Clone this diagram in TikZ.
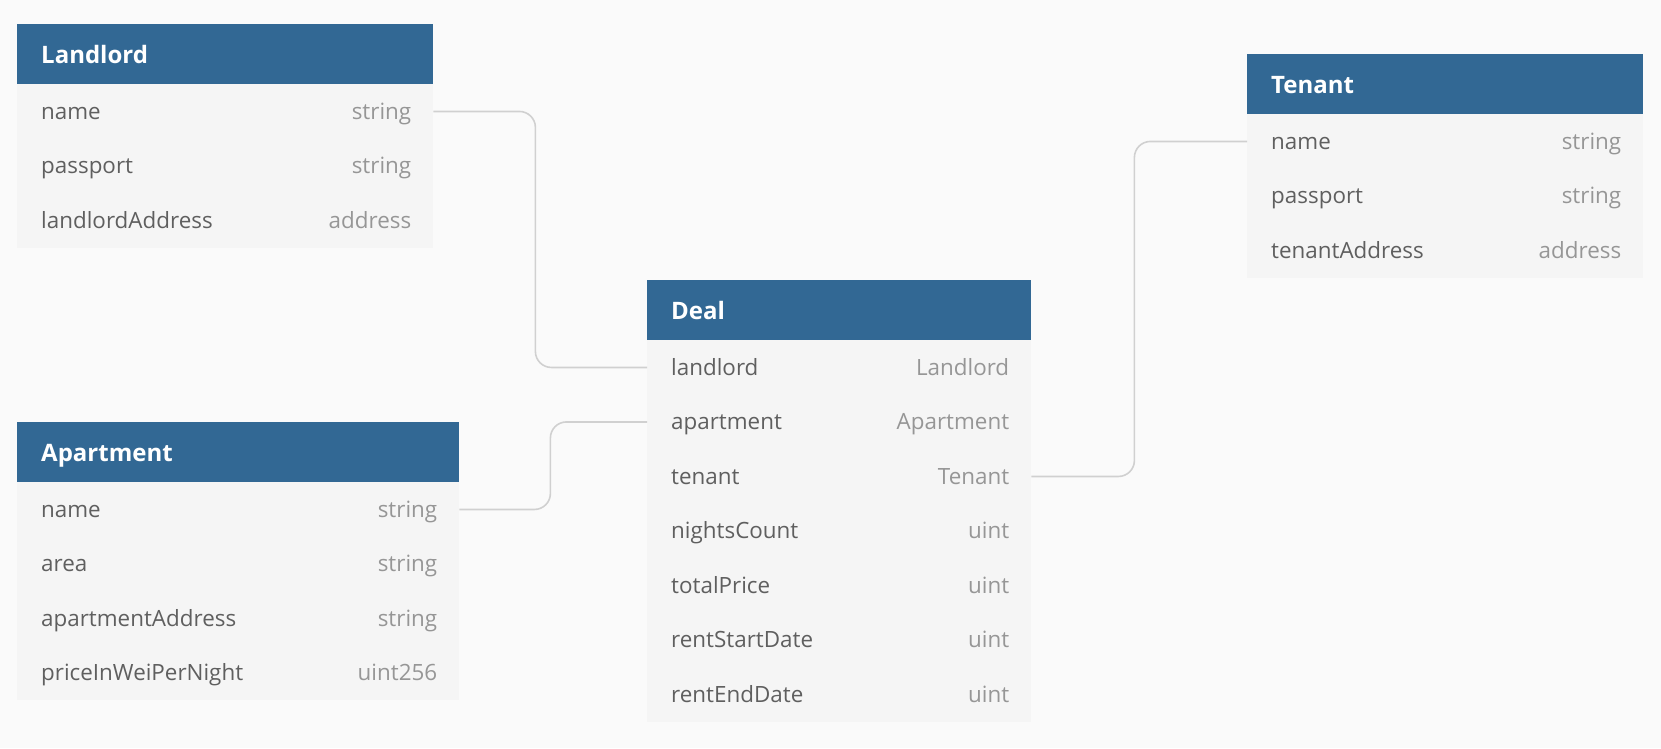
\documentclass[tikz,border=0pt]{standalone}
\usepackage{fontspec}
\setmainfont{Open Sans}
\usetikzlibrary{calc}
\definecolor{hdrblue}{RGB}{50,104,148}
\definecolor{bgcol}{RGB}{250,250,250}
\definecolor{rowcol}{RGB}{245,245,245}
\definecolor{namecol}{RGB}{95,95,95}
\definecolor{typecol}{RGB}{150,150,150}
\definecolor{conncol}{RGB}{208,208,208}
\tikzset{
  hdr/.style={fill=hdrblue, draw=none, minimum height=60pt, inner sep=0pt, anchor=north west},
  ttl/.style={text=white, font=\fontsize{24}{28}\selectfont\bfseries, inner sep=0pt, anchor=base west},
  rowbox/.style={fill=rowcol, draw=none, minimum height=54.5pt, inner sep=0pt, anchor=north west},
  fname/.style={text=namecol, font=\fontsize{22.4}{26}\selectfont, inner sep=0pt, anchor=base west},
  ftype/.style={text=typecol, font=\fontsize{22.4}{26}\selectfont, inner sep=0pt, anchor=base east},
  conn/.style={draw=conncol, line width=1.6pt, rounded corners=16pt}
}
\newcommand{\erTable}[6]{%
  \node[hdr, minimum width=#4pt] (#1) at (#2,#3) {};
  \node[ttl] (#1-title) at ($(#1.west)+(24,9.5)$) {#5};
  \foreach [count=\i] \f/\t in {#6} {
    \node[rowbox, minimum width=#4pt] (#1-\i) at ($(#2,#3)+(0,{60+(\i-1)*54.5})$) {};
    \node[fname] (#1-\i-n) at ($(#1-\i.west)+(24,8)$) {\f};
    \node[ftype] (#1-\i-t) at ($(#1-\i.east)+(-22,8)$) {\t};
  }%
}
\begin{document}
\begin{tikzpicture}[x=1pt, y=-1pt]
\useasboundingbox[fill=bgcol] (0,0) rectangle (1661,748);
\erTable{Landlord}{17}{24}{416}{Landlord}{name/string, passport/string, landlordAddress/address}
\erTable{Tenant}{1247}{54}{396}{Tenant}{name/string, passport/string, tenantAddress/address}
\erTable{Apartment}{17}{422}{442}{Apartment}{name/string, area/string, apartmentAddress/string, priceInWeiPerNight/uint256}
\erTable{Deal}{647}{280}{384}{Deal}{landlord/Landlord, apartment/Apartment, tenant/Tenant, nightsCount/uint, totalPrice/uint, rentStartDate/uint, rentEndDate/uint}
\draw[conn] (Landlord-1.east) -- ++(102,0) |- (Deal-1.west);
\draw[conn] (Apartment-1.east) -- ++(91,0) |- (Deal-2.west);
\draw[conn] (Deal-3.east) -- ++(103,0) |- (Tenant-1.west);
\end{tikzpicture}
\end{document}
